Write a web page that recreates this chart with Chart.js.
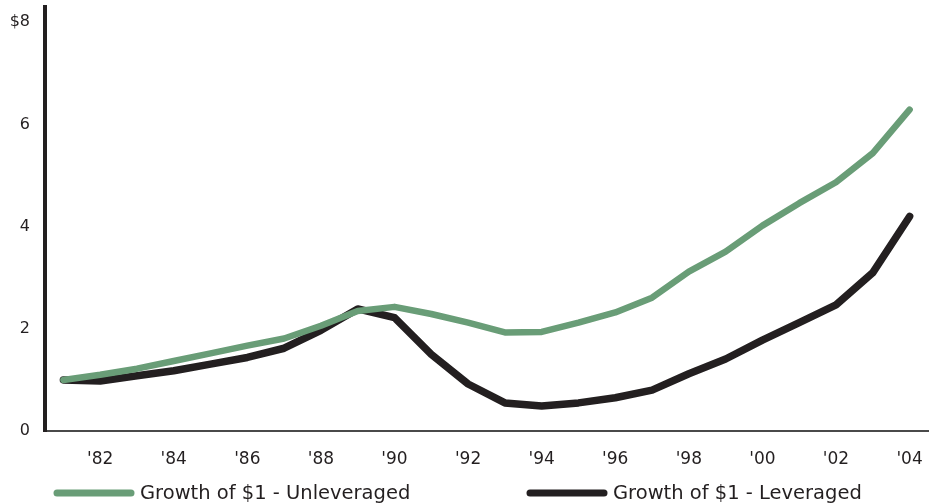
<!DOCTYPE html>
<html>
<head>
<meta charset="utf-8">
<script src="https://cdn.jsdelivr.net/npm/chart.js@4/dist/chart.umd.min.js"></script>
<style>
  html, body { margin: 0; padding: 0; background: #fff; }
  #wrap { width: 930px; height: 503px; }
</style>
</head>
<body>
<div id="wrap"><canvas id="grafico"></canvas></div>
<script>
const years = [1981, 1982, 1983, 1984, 1985, 1986, 1987, 1988, 1989, 1990, 1991, 1992,
               1993, 1994, 1995, 1996, 1997, 1998, 1999, 2000, 2001, 2002, 2003, 2004];
const unleveraged = [1.00, 1.10, 1.22, 1.37, 1.52, 1.67, 1.81, 2.06, 2.35, 2.43, 2.29, 2.12,
                     1.93, 1.94, 2.12, 2.32, 2.61, 3.12, 3.51, 4.02, 4.46, 4.87, 5.44, 6.29];
const leveraged = [1.00, 0.98, 1.08, 1.18, 1.31, 1.44, 1.62, 1.97, 2.39, 2.22, 1.50, 0.92,
                   0.55, 0.49, 0.55, 0.65, 0.80, 1.12, 1.41, 1.78, 2.12, 2.47, 3.10, 4.20];
const yTicks = [0, 2, 4, 6, 8];
const seriesNames = ['Growth of $1 - Unleveraged', 'Growth of $1 - Leveraged'];

const green = '#699d77';
const black = '#231f20';
const sans = '"DejaVu Sans", "Liberation Sans", sans-serif';

// legend drawn under the axis, two long line samples
const bottomLegend = {
  id: 'bottomLegend',
  afterDraw(chart) {
    const ctx = chart.ctx;
    const y = 493;
    const items = [
      { x: 57, color: green, text: seriesNames[0] },
      { x: 530, color: black, text: seriesNames[1] }
    ];
    ctx.save();
    ctx.font = '19.5px ' + sans;
    ctx.textBaseline = 'middle';
    items.forEach(it => {
      ctx.strokeStyle = it.color;
      ctx.lineWidth = 7;
      ctx.lineCap = 'round';
      ctx.beginPath();
      ctx.moveTo(it.x, y);
      ctx.lineTo(it.x + 74, y);
      ctx.stroke();
      ctx.fillStyle = black;
      ctx.fillText(it.text, it.x + 83, y + 1);
    });
    ctx.restore();
  }
};

const ctx = document.getElementById('grafico').getContext('2d');
new Chart(ctx, {
  type: 'line',
  data: {
    labels: years,
    datasets: [{
      label: seriesNames[0],
      data: unleveraged,
      borderColor: green,
      backgroundColor: green,
      borderWidth: 6.5,
      borderCapStyle: 'round',
      borderJoinStyle: 'round',
      pointRadius: 0,
      tension: 0
    }, {
      label: seriesNames[1],
      data: leveraged,
      borderColor: black,
      backgroundColor: black,
      borderWidth: 7.5,
      borderCapStyle: 'round',
      borderJoinStyle: 'round',
      pointRadius: 0,
      tension: 0
    }]
  },
  options: {
    responsive: true,
    maintainAspectRatio: false,
    animation: false,
    layout: { padding: { top: 7, right: 2, bottom: 20, left: 0 } },
    plugins: {
      legend: { display: false },
      title: { display: false },
      tooltip: { enabled: false }
    },
    scales: {
      x: {
        type: 'category',
        offset: true,
        grid: { display: false, drawTicks: false },
        border: { display: true, color: '#4a4a4a', width: 2 },
        ticks: {
          autoSkip: false,
          maxRotation: 0,
          padding: 18,
          color: black,
          font: { size: 17, family: sans },
          callback: function(v, i) {
            const yr = years[i];
            return yr % 2 === 0 ? "'" + String(yr).slice(2) : '';
          }
        },
        afterFit: s => {
          s.height = 52;
          s.paddingLeft = 0;
          s.paddingRight = 0;
        }
      },
      y: {
        min: 0,
        max: 8.3,
        grid: { display: false, drawTicks: false },
        border: { display: true, color: black, width: 4 },
        afterBuildTicks: s => { s.ticks = yTicks.map(v => ({ value: v })); },
        ticks: {
          padding: 15,
          color: black,
          font: { size: 16, family: sans },
          callback: v => v === 8 ? '$8' : String(v)
        },
        afterFit: s => {
          s.width = 45;
          s.paddingTop = 0;
          s.paddingBottom = 0;
        }
      }
    }
  },
  plugins: [bottomLegend]
});
</script>
</body>
</html>
